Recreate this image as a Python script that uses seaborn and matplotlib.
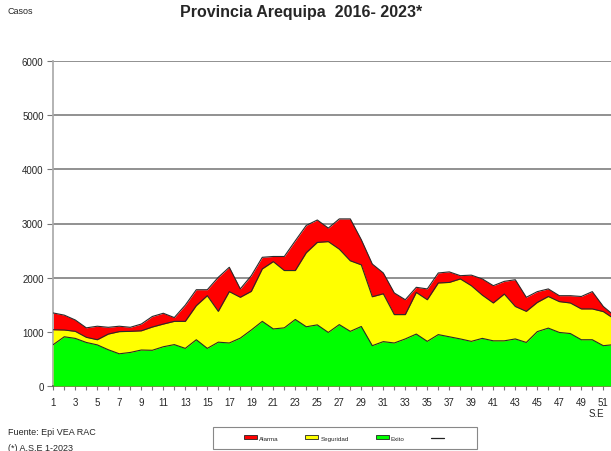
import numpy as np
import pandas as pd
import matplotlib
matplotlib.use("Agg")
import matplotlib.pyplot as plt
import seaborn as sns
from matplotlib.patches import Patch, Rectangle
from matplotlib.lines import Line2D

# semanas epidemiologicas
semanas = list(range(1, 53))

# limites superiores de cada zona (casos)
exito = [760, 905, 875, 800, 755, 665, 590, 615, 660, 655,
         720, 760, 690, 850, 690, 805, 790, 880, 1030, 1190,
         1050, 1070, 1225, 1090, 1125, 985, 1130, 1005, 1095, 740,
         815, 790, 865, 955, 820, 945, 905, 865, 820, 875,
         830, 830, 865, 800, 1000, 1065, 985, 965, 850, 850,
         740, 760]
seguridad = [1035, 1030, 1005, 895, 850, 955, 1000, 1005, 1015, 1085,
             1140, 1190, 1190, 1480, 1665, 1375, 1740, 1635, 1745, 2160,
             2295, 2130, 2130, 2460, 2650, 2665, 2525, 2310, 2235, 1645,
             1700, 1315, 1315, 1725, 1590, 1900, 1910, 1975, 1850, 1675,
             1530, 1695, 1465, 1375, 1540, 1650, 1555, 1530, 1420, 1420,
             1370, 1235]
alarma = [1345, 1305, 1215, 1070, 1100, 1080, 1100, 1080, 1140, 1280,
          1340, 1260, 1490, 1775, 1775, 2005, 2190, 1790, 2035, 2375,
          2390, 2390, 2680, 2965, 3065, 2915, 3085, 3085, 2700, 2250,
          2085, 1715, 1590, 1820, 1790, 2085, 2105, 2035, 2045, 1975,
          1850, 1930, 1960, 1635, 1740, 1790, 1665, 1665, 1650, 1740,
          1465, 1295]

y_ticks = [0, 1000, 2000, 3000, 4000, 5000, 6000]
x_labels = list(range(1, 53, 2))

df = pd.DataFrame({"SE": semanas, "Exito": exito,
                   "Seguridad": seguridad, "Alarma": alarma})

sns.set_theme(style="white")
plt.rcParams["font.family"] = ["Liberation Sans", "DejaVu Sans"]

fig = plt.figure(figsize=(6.11, 4.52), dpi=100)
ax = fig.add_axes([53.3 / 611, 65.3 / 452, 561 / 611, 324.4 / 452])

rojo, amarillo, verde = "#ff0000", "#ffff00", "#00ff00"
ax.fill_between(df["SE"], 0, df["Alarma"], color=rojo, lw=0, zorder=2)
ax.fill_between(df["SE"], 0, df["Seguridad"], color=amarillo, lw=0, zorder=3)
ax.fill_between(df["SE"], 0, df["Exito"], color=verde, lw=0, zorder=4)
for col in ["Alarma", "Seguridad", "Exito"]:
    sns.lineplot(data=df, x="SE", y=col, ax=ax, color="#2a2a2a", lw=0.8, zorder=5)

ax.set_xlim(1, 52)
ax.set_ylim(0, 6000)
ax.set_yticks(y_ticks)
ax.set_yticklabels([str(v) for v in y_ticks], fontsize=7)
ax.set_xticks(semanas, minor=True)
ax.set_xticks(x_labels)
ax.set_xticklabels([str(v) for v in x_labels], fontsize=7)
ax.yaxis.grid(True, color="#888888", lw=1.3, zorder=1)
ax.set_axisbelow(True)
ax.tick_params(axis="y", which="major", length=4, width=0.8, color="#777777", pad=3, left=True)
ax.tick_params(axis="x", which="both", length=3, width=0.8, color="#777777", pad=5, bottom=True)
ax.set_xlabel("")
ax.set_ylabel("")
for s in ["top", "right"]:
    ax.spines[s].set_visible(False)
ax.spines["left"].set_color("#aaaaaa")
ax.spines["bottom"].set_color("#555555")

fig.text(301 / 611, 1 - 17 / 452, "Provincia Arequipa  2016- 2023*", ha="center",
         va="baseline", fontsize=11.5, fontweight="bold")
fig.text(8 / 611, 1 - 11 / 452, "Casos", fontsize=6.5, va="center")
fig.text(596 / 611, 1 - 414 / 452, "S.E", fontsize=7, ha="center", va="center")
fig.text(8 / 611, 1 - 433 / 452, "Fuente: Epi VEA RAC", fontsize=6.5, va="center")
fig.text(8 / 611, 1 - 449 / 452, "(*) A.S.E 1-2023", fontsize=6.5, va="center")

# caja de la leyenda
fig.patches.append(Rectangle((213 / 611, 1 - 450 / 452), 264 / 611, 22 / 452,
                             transform=fig.transFigure, facecolor="white",
                             edgecolor="#888888", lw=0.8, zorder=0))

handles = [Patch(facecolor=rojo, edgecolor="#222222", lw=0.6),
           Patch(facecolor=amarillo, edgecolor="#222222", lw=0.6),
           Patch(facecolor=verde, edgecolor="#222222", lw=0.6),
           Line2D([], [], color="#222222", lw=0.9)]
leg = fig.legend(handles, ["Alarma", "Seguridad", "Exito", ""], ncol=4,
                 loc="center", bbox_to_anchor=(345 / 611, 1 - 439 / 452),
                 fontsize=4.5, frameon=False, handlelength=2.1,
                 handleheight=0.6, handletextpad=0.3, columnspacing=4.3,
                 borderpad=0.2)

fig.savefig("out.png", dpi=100)
